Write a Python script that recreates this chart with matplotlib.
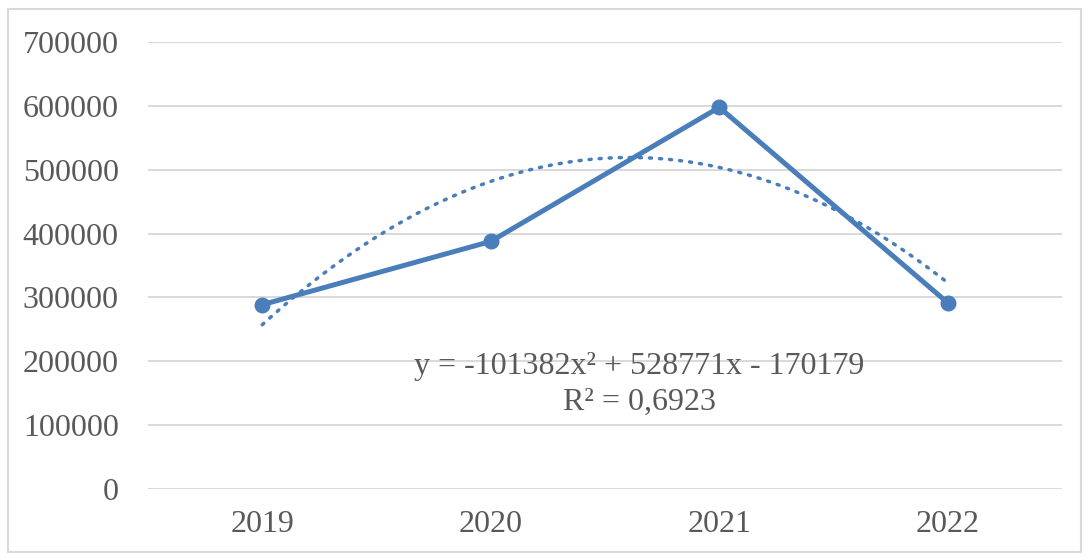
import numpy as np
import matplotlib
matplotlib.use("Agg")
import matplotlib.pyplot as plt
from matplotlib.patches import Rectangle

years = ["2019", "2020", "2021", "2022"]
values = [288600, 387700, 597600, 291600]
y_ticks = [0, 100000, 200000, 300000, 400000, 500000, 600000, 700000]
eq_text = "y = -101382x² + 528771x - 170179\nR² = 0,6923"

blue = "#4a7ebb"
grey_text = "#595959"
grid_col = "#d9d9d9"

plt.rcParams['font.family'] = ['Liberation Serif', 'DejaVu Serif']

x = np.arange(1, len(years) + 1)

# polynomial trendline (order 2), like Excel
coef = np.polyfit(x, values, 2)
xs = np.linspace(x[0], x[-1], 200)
ys = np.polyval(coef, xs)

fig = plt.figure(figsize=(10.89, 5.56), dpi=100)
ax = fig.add_axes([0.1359, 0.1205, 0.8393, 0.804])

fig.patches.append(Rectangle((0.007, 0.008), 0.986, 0.976, transform=fig.transFigure,
                             fill=False, edgecolor=grid_col, linewidth=1.5))

for t in y_ticks:
    ax.axhline(t, color=grid_col, linewidth=1.4, zorder=1)

ax.plot(xs, ys, linestyle=(0, (0.6, 2.3)), dash_capstyle='round', color=blue,
        linewidth=2.5, zorder=2)
ax.plot(x, values, color=blue, linewidth=3.6, marker='o', markersize=10.5,
        solid_capstyle='round', zorder=3)

ax.text(2.65, 164000, eq_text, ha='center', va='center', fontsize=23,
        color=grey_text, linespacing=1.3, zorder=4)

ax.set_xlim(0.5, 4.5)
ax.set_ylim(0, 700000)
ax.set_xticks(x)
ax.set_xticklabels(years)
ax.set_yticks(y_ticks)
ax.set_yticklabels([str(t) for t in y_ticks])
ax.tick_params(axis='both', length=0, labelsize=23, labelcolor=grey_text)
ax.tick_params(axis='y', pad=21)
ax.tick_params(axis='x', pad=15)
for s in ax.spines.values():
    s.set_visible(False)

fig.savefig("out.png", dpi=100)
